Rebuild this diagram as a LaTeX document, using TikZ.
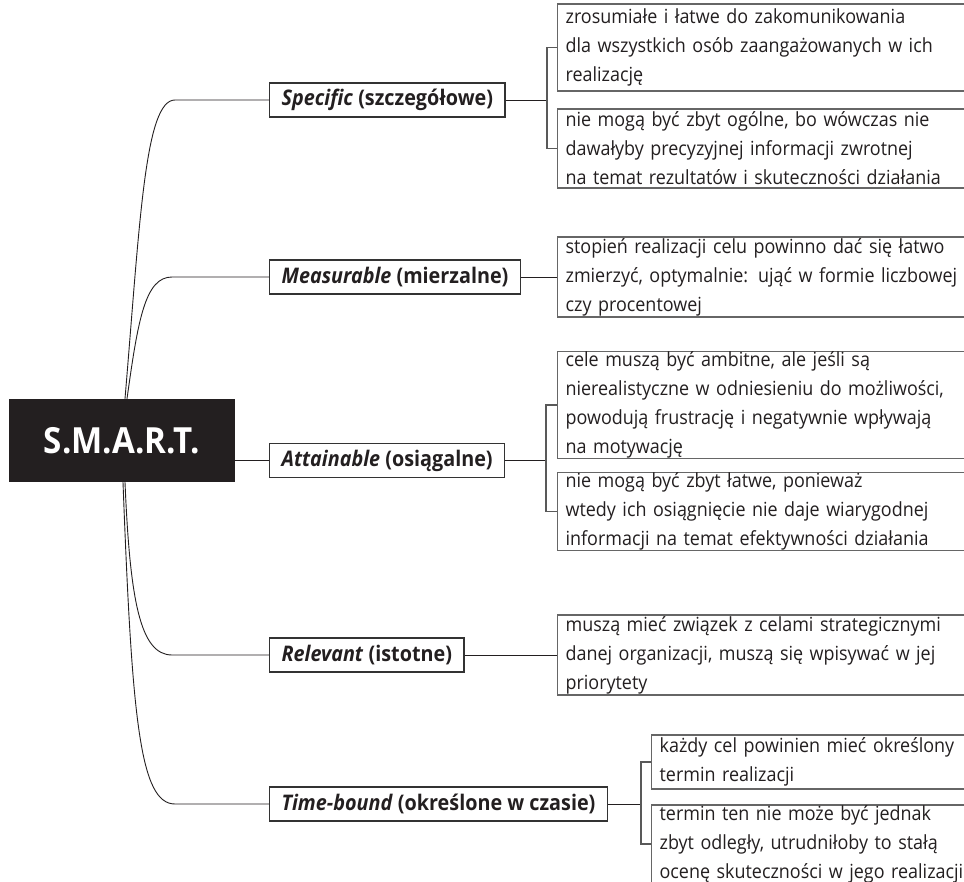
\documentclass[tikz,border=0pt]{standalone}
\usepackage{fontspec}
\setmainfont{Open Sans}[FakeStretch=0.92]
\definecolor{txt}{HTML}{231F20}
\definecolor{smartbg}{HTML}{231F20}
\begin{document}
\begin{tikzpicture}[x=1pt,y=-1pt,
  conn/.style={draw=txt, line width=0.9pt},
  brack/.style={draw=black!65, line width=1.1pt},
  branch/.style={draw=black!80, line width=1.2pt, fill=white, font=\bfseries\fontsize{21.5}{25}\selectfont, minimum height=34pt, inner xsep=12pt, inner ysep=0pt, anchor=west, text=txt},
  detail/.style={draw=black!60, line width=1.2pt, text width=420pt, align=left, inner xsep=8pt, inner ysep=0pt, anchor=west, font=\fontsize{19.5}{29}\selectfont, text=txt}]
\useasboundingbox (0,0) rectangle (964,882);
\clip (0,0) rectangle (964,882);
\fill[white] (0,0) rectangle (964,882);

\node[fill=smartbg, minimum width=226pt, minimum height=83pt, inner sep=0pt, text=white, font=\bfseries\fontsize{36}{44}\selectfont] (smart) at (122,440.5) {S.M.A.R.T.};

\node[branch] (spec) at (269,100) {\textit{Specific} (szczegółowe)};
\node[branch] (meas) at (269,277) {\textit{Measurable} (mierzalne)};
\node[branch] (att) at (269,460.5) {\textit{Attainable} (osiągalne)};
\node[branch] (rel) at (269,655) {\textit{Relevant} (istotne)};
\node[branch] (time) at (269,804) {\textit{Time-bound} (określone w czasie)};

\node[detail, minimum height=87pt] (s1) at (557,47.5) {zrosumiałe i łatwe do zakomunikowania\\dla wszystkich osób zaangażowanych w ich\\realizację};
\node[detail, minimum height=79pt] (s2) at (557,148.5) {nie mogą być zbyt ogólne, bo wówczas nie\\dawałyby precyzyjnej informacji zwrotnej\\na temat rezultatów i skuteczności działania};
\node[detail, minimum height=80pt] (m1) at (557,277) {stopień realizacji celu powinno dać się łatwo\\zmierzyć, optymalnie: ująć w formie liczbowej\\czy procentowej};
\node[detail, minimum height=104pt] (a1) at (557,405) {cele muszą być ambitne, ale jeśli są\\nierealistyczne w odniesieniu do możliwości,\\powodują frustrację i negatywnie wpływają\\na motywację};
\node[detail, minimum height=74pt] (a2) at (557,511.5) {nie mogą być zbyt łatwe, ponieważ\\wtedy ich osiągnięcie nie daje wiarygodnej\\informacji na temat efektywności działania};
\node[detail, minimum height=80pt] (r1) at (557,655) {muszą mieć związek z celami strategicznymi\\danej organizacji, muszą się wpisywać w jej\\priorytety};
\node[detail, minimum height=54pt] (t1) at (651,762) {każdy cel powinien mieć określony\\termin realizacji};
\node[detail, minimum height=78pt] (t2) at (651,844) {termin ten nie może być jednak\\zbyt odległy, utrudniłoby to stałą\\ocenę skuteczności w jego realizacji};

% curves from the centre
\draw[conn] ([xshift=3pt]smart.north) .. controls (140,220) and (145,100) .. (175,100) -- (spec.west);
\draw[conn] ([xshift=5pt]smart.north) .. controls (138,320) and (145,277) .. (172,277) -- (meas.west);
\draw[conn] (smart.east |- att.west) -- (att.west);
\draw[conn] ([xshift=3pt]smart.south) .. controls (130,600) and (140,655) .. (172,655) -- (rel.west);
\draw[conn] ([xshift=1pt]smart.south) .. controls (132,720) and (140,804) .. (175,804) -- (time.west);

% brackets
\coordinate (sj) at (547,100);
\draw[conn] (spec.east) -- (sj);
\draw[brack] (s1.west) -| (sj) |- (s2.west);
\draw[conn] (meas.east) -- (m1.west);
\coordinate (aj) at (546,460.5);
\draw[conn] (att.east) -- (aj);
\draw[brack] (a1.west) -| (aj) |- (a2.west);
\draw[conn] (rel.east) -- (r1.west);
\coordinate (tj) at (641,804);
\draw[conn] (time.east) -- (tj);
\draw[brack] (t1.west) -| (tj) |- (t2.west);
\end{tikzpicture}
\end{document}
